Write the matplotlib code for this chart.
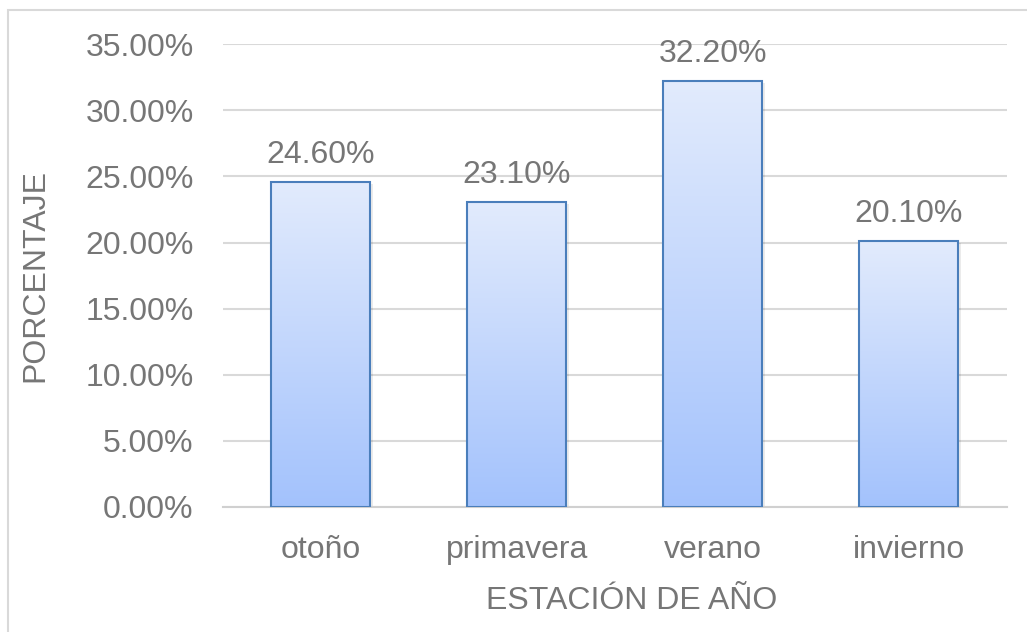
import numpy as np
import matplotlib.pyplot as plt
from matplotlib.colors import LinearSegmentedColormap
from matplotlib.patches import Rectangle

plt.rcParams['font.family'] = ['Liberation Sans', 'DejaVu Sans']

estaciones = ['otoño', 'primavera', 'verano', 'invierno']
porcentajes = [24.6, 23.1, 32.2, 20.1]
yticks = [0, 5, 10, 15, 20, 25, 30, 35]

gris_texto = '#767676'
gris_rejilla = '#d9d9d9'

fig = plt.figure(figsize=(10.27, 6.32), dpi=100)
ax = fig.add_axes([0.217, 0.198, 0.7635, 0.732])

# marco del grafico
fig.patches.append(Rectangle((8 / 1027, -0.05), 1.1, 1 - 10 / 632 + 0.05,
                             transform=fig.transFigure, fill=False,
                             edgecolor='#d9d9d9', linewidth=1.5))

x = np.arange(len(estaciones))
barras = ax.bar(x, porcentajes, width=0.505, color='none',
                edgecolor='#4a7ebb', linewidth=1.5, zorder=3)

# degradado dentro de cada barra
cmap = LinearSegmentedColormap.from_list('azul', ['#a3c2fc', '#e2ebfd'])
grad = np.linspace(0, 1, 256).reshape(-1, 1)
for b in barras:
    x0, y0 = b.get_x(), b.get_y()
    w, h = b.get_width(), b.get_height()
    # sombra suave
    ax.add_patch(Rectangle((x0 + 0.012, y0 - 0.15), w, h, facecolor='#000000',
                           alpha=0.08, edgecolor='none', zorder=1.5))
    im = ax.imshow(grad, cmap=cmap, origin='lower', aspect='auto',
                   extent=(x0, x0 + w, y0, y0 + h), zorder=2)
    im.set_clip_path(b)

for xi, v in zip(x, porcentajes):
    ax.annotate(f'{v:.2f}%', (xi, v), xytext=(0, 8.5), textcoords='offset points',
                ha='center', va='bottom', fontsize=23, color=gris_texto)

ax.set_xlim(-0.5, len(estaciones) - 0.5)
ax.set_ylim(0, 35)
ax.set_yticks(yticks)
ax.set_yticklabels([f'{t:.2f}%' for t in yticks])
ax.set_xticks(x)
ax.set_xticklabels(estaciones)
ax.tick_params(length=0, labelsize=23, colors=gris_texto)
ax.tick_params(axis='y', pad=21)
ax.tick_params(axis='x', pad=20)
ax.grid(axis='y', color=gris_rejilla, linewidth=1.5, zorder=0)
ax.set_axisbelow(True)
for s in ['top', 'right', 'left']:
    ax.spines[s].set_visible(False)
ax.spines['bottom'].set_color('#d0d0d0')
ax.spines['bottom'].set_linewidth(1.5)

ax.set_xlabel('ESTACIÓN DE AÑO', fontsize=23, color=gris_texto)
ax.set_ylabel('PORCENTAJE', fontsize=23, color=gris_texto)
ax.xaxis.set_label_coords(0.521, -0.17)
ax.yaxis.set_label_coords(-0.22, 0.5)

fig.savefig('out.png', dpi=100)
